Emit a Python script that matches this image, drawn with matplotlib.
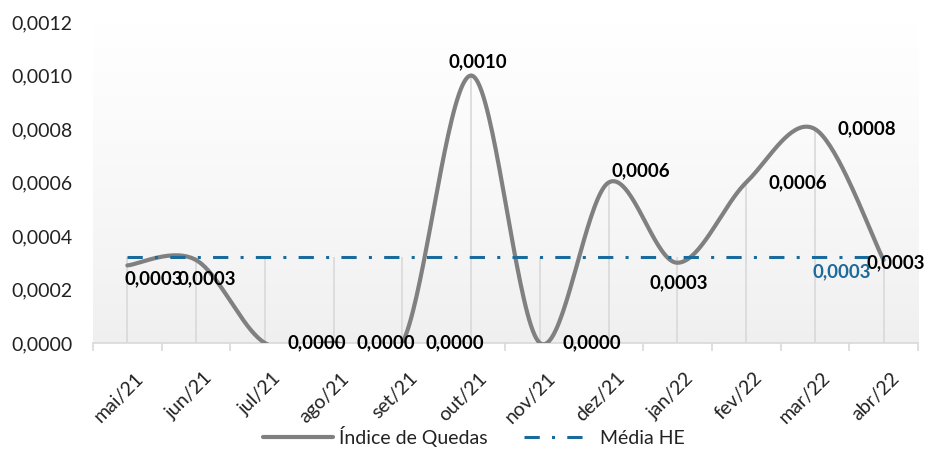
import numpy as np
import matplotlib
matplotlib.use("Agg")
import matplotlib.pyplot as plt
import matplotlib.transforms as mtransforms
from matplotlib.colors import LinearSegmentedColormap
from matplotlib.ticker import FixedLocator, FuncFormatter

## DATA

meses = ["mai/21", "jun/21", "jul/21", "ago/21", "set/21", "out/21",
         "nov/21", "dez/21", "jan/22", "fev/22", "mar/22", "abr/22"]
indice_quedas = [0.00029, 0.00031, 0.0, 0.0, 0.0, 0.0010,
                 0.0, 0.0006, 0.0003, 0.0006, 0.0008, 0.00031]
media_he = [0.00032] * 12
y_ticks = [0.0, 0.0002, 0.0004, 0.0006, 0.0008, 0.0010, 0.0012]

## STYLE

GRAY = "#808080"
BLUE = "#1a6a9c"
GRID = "#d9d9d9"
FONT = "Lato"

# label offsets (pixels) relative to each point
label_off = [(26, -13), (11, -19), (52, 0), (52, 0), (52, 0), (7, 14),
             (52, 0), (32, 12), (1, -20), (52, 0), (52, 0), (12, -3)]
media_off = (-42, -14)


def smooth(xs, ys, n=40):
	# bezier smoothing like the spreadsheet "smoothed line"
	xs = np.asarray(xs, float)
	ys = np.asarray(ys, float)
	px = np.concatenate([[xs[0]], xs, [xs[-1]]])
	py = np.concatenate([[ys[0]], ys, [ys[-1]]])
	out_x, out_y = [], []
	t = np.linspace(0, 1, n)
	for i in range(1, len(px) - 2):
		p0 = np.array([px[i], py[i]])
		p3 = np.array([px[i + 1], py[i + 1]])
		p1 = p0 + (np.array([px[i + 1], py[i + 1]]) - np.array([px[i - 1], py[i - 1]])) / 6
		p2 = p3 - (np.array([px[i + 2], py[i + 2]]) - np.array([px[i], py[i]])) / 6
		b = ((1 - t) ** 3)[:, None] * p0 + (3 * (1 - t) ** 2 * t)[:, None] * p1 \
			+ (3 * (1 - t) * t ** 2)[:, None] * p2 + (t ** 3)[:, None] * p3
		out_x.extend(b[:, 0])
		out_y.extend(b[:, 1])
	return np.array(out_x), np.array(out_y)


def fmt(v):
	return f"{v:.4f}".replace(".", ",")


plt.rcParams["font.family"] = [FONT, "DejaVu Sans"]

fig = plt.figure(figsize=(9.27, 4.5), dpi=100)
ax = fig.add_axes([0.1003, 0.2378, 0.8900, 0.7133])

x = np.arange(len(meses))
ymax = y_ticks[-1]

# background gradient
cmap = LinearSegmentedColormap.from_list("bg", ["#efefef", "#ffffff"])
grad = np.linspace(0, 1, 256).reshape(-1, 1) ** 0.8
ax.imshow(grad, extent=(-0.5, len(meses) - 0.5, 0, ymax), origin="lower",
		  aspect="auto", cmap=cmap, zorder=0)

# drop lines
tops = [max(a, b) for a, b in zip(indice_quedas, media_he)]
ax.vlines(x, 0, tops, color=GRID, lw=1.2, zorder=1)

sx, sy = smooth(x, indice_quedas)
ax.plot(sx, sy, color=GRAY, lw=3.0, solid_capstyle="round", zorder=3,
		label="Índice de Quedas")
ax.plot(x, media_he, color=BLUE, lw=2.2, dashes=(5, 4, 1, 4),
		dash_capstyle="butt", zorder=4, label="Média HE")

for i, v in enumerate(indice_quedas):
	ax.annotate(fmt(v), (x[i], v), xytext=label_off[i], textcoords="offset pixels",
				ha="center", va="center", fontsize=13.5, fontweight="bold",
				color="black", zorder=6, annotation_clip=False)
ax.annotate(fmt(media_he[-1]), (x[-1], media_he[-1]), xytext=media_off,
			textcoords="offset pixels", ha="center", va="center",
			fontsize=13.5, fontweight="bold", color=BLUE, zorder=6,
			annotation_clip=False)

ax.set_xlim(-0.5, len(meses) - 0.5)
ax.set_ylim(0, ymax)

ax.yaxis.set_major_locator(FixedLocator(y_ticks))
ax.yaxis.set_major_formatter(FuncFormatter(lambda v, p: fmt(v)))
ax.tick_params(axis="y", length=0, pad=15, labelsize=14, labelcolor="#222222")

ax.set_xticks(x)
ax.set_xticks(np.arange(len(meses) + 1) - 0.5, minor=True)
ax.set_xticklabels(meses, rotation=45, ha="right", rotation_mode="anchor")
ax.tick_params(axis="x", which="major", length=0, pad=19, labelsize=14,
			   labelcolor="#222222")
ax.tick_params(axis="x", which="minor", length=6, color=GRID, width=1.2)
shift = mtransforms.ScaledTranslation(7 / 100, 0, fig.dpi_scale_trans)
for lab in ax.get_xticklabels():
	lab.set_transform(lab.get_transform() + shift)

for s in ["top", "right", "left"]:
	ax.spines[s].set_visible(False)
ax.spines["bottom"].set_color(GRID)
ax.spines["bottom"].set_linewidth(1.2)
ax.spines["bottom"].set_zorder(2)

fig.legend(loc="center", bbox_to_anchor=(0.511, 0.03), ncol=2, frameon=False,
		   fontsize=14, handlelength=3.6, handletextpad=0.3, columnspacing=1.9,
		   labelcolor="#222222")

fig.savefig("out.png", dpi=100, facecolor="white")
